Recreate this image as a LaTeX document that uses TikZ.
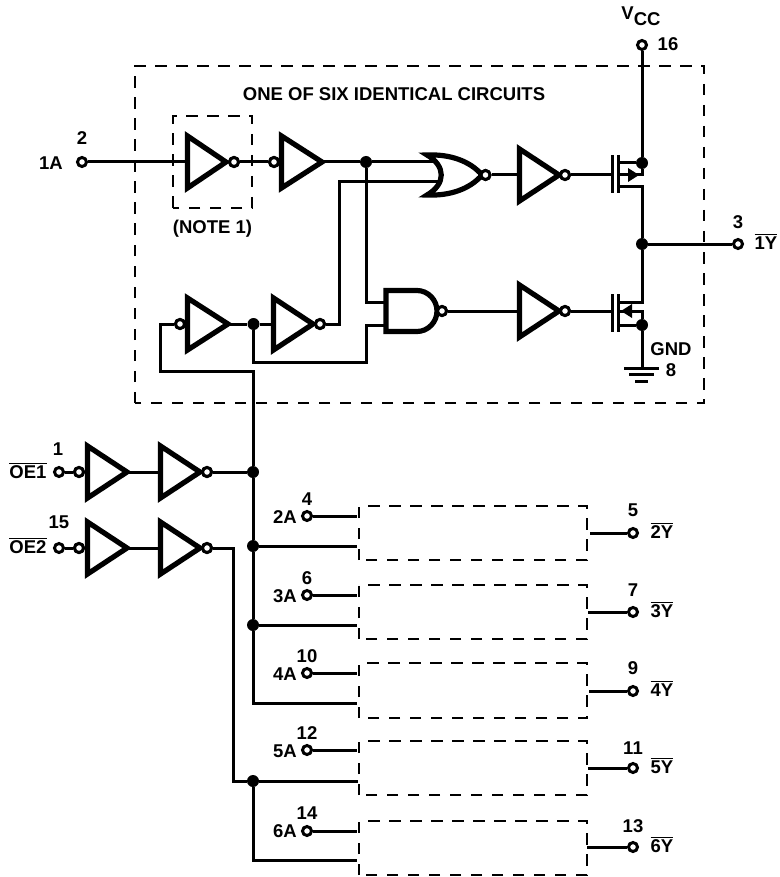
\documentclass[tikz,border=0pt]{standalone}
\usepackage{fontspec}
\setmainfont{Liberation Sans}
\newcommand{\ovl}[1]{\vbox{\hrule height 1.2pt \kern 1.6pt \hbox{#1}}}
\tikzset{
  wire/.style={line width=3pt,line cap=butt,line join=miter},
  gatebody/.style={line width=5.2pt,line join=miter,fill=white},
  dashbox/.style={line width=1.8pt,dash pattern=on 11.5pt off 9.5pt},
  pin/.style={circle,draw,fill=white,line width=3pt,inner sep=0pt,minimum size=9pt},
  dot/.style={circle,fill=black,inner sep=0pt,minimum size=12pt},
  lbl/.style={font=\fontsize{18.5}{20}\selectfont\bfseries,inner sep=0pt,text=black},
  lblov/.style={lbl,anchor=center}
}
% #1 name, #2 left x, #3 centre y, #4 apex x, #5 half height
\newcommand{\inverter}[5]{%
  \coordinate (#1-in) at (#2,#3);
  \coordinate (#1-out) at (#4,#3);
  \draw[gatebody] (#2,#3-#5) -- (#4,#3) -- (#2,#3+#5) -- cycle;
}
\begin{document}
\begin{tikzpicture}[x=1pt,y=-1pt]
\useasboundingbox (0,0) rectangle (779,877);

% dashed enclosures
\draw[dashbox] (135,403) -- (135,66) -- (704,66) -- (704,403) -- cycle;
\draw[dashbox] (173,208) -- (173,116) -- (252,116) -- (252,208) -- cycle;
\foreach \t/\b in {506/560,585/639,663/718,741/795,821/875}
  \draw[dashbox] (359,\b) -- (359,\t) -- (587,\t) -- (587,\b) -- cycle;

% pins
\node[pin] (p1A) at (82,162) {};
\node[pin] (pVcc) at (642,45) {};
\node[pin] (p1Y) at (738,244) {};
\node[pin] (pOE1) at (59,472) {};
\node[pin] (pOE2) at (59,548) {};
\node[pin] (p2A) at (307,516) {};
\node[pin] (p3A) at (307,595) {};
\node[pin] (p4A) at (307,673) {};
\node[pin] (p5A) at (307,750) {};
\node[pin] (p6A) at (307,831) {};
\node[pin] (p2Y) at (633,533) {};
\node[pin] (p3Y) at (633,612) {};
\node[pin] (p4Y) at (633,691) {};
\node[pin] (p5Y) at (633,768) {};
\node[pin] (p6Y) at (633,847) {};

% free wire ends at the dashed boxes
\coordinate (i2a) at (357,516); \coordinate (i2b) at (357,546); \coordinate (o2) at (590,533);
\coordinate (i3a) at (357,595); \coordinate (i3b) at (357,625); \coordinate (o3) at (588,612);
\coordinate (i4a) at (357,673); \coordinate (i4b) at (357,703); \coordinate (o4) at (589,691);
\coordinate (i5a) at (357,750); \coordinate (i5b) at (358,781); \coordinate (o5) at (588,768);
\coordinate (i6a) at (357,831); \coordinate (i6b) at (357,860); \coordinate (o6) at (587,847);

% junction dots
\node[dot] (jA) at (366,162) {};
\node[dot] (jB) at (253.5,324) {};
\node[dot] (jVcc) at (642,163) {};
\node[dot] (jOut) at (642,244) {};
\node[dot] (jGnd) at (642,325) {};
\node[dot] (jOE1) at (253,472) {};
\node[dot] (j2) at (253,546) {};
\node[dot] (j3) at (253,625) {};
\node[dot] (j5) at (253,781) {};

% connection points
\coordinate (orA) at (436,162);
\coordinate (orB) at (440,182);
\coordinate (naA) at (387,302);
\coordinate (naB) at (387,325);
\coordinate (g1) at (612,175);
\coordinate (g2) at (612,311);
\coordinate (gndTop) at (642,368);
\coordinate (u1-in) at (188,162);
\coordinate (u2-out) at (322,162);
\coordinate (u3-out) at (228,324);
\coordinate (u4-in) at (274,324);
\coordinate (u5-in) at (520,175);
\coordinate (u6-in) at (520,311);
\coordinate (u7-out) at (127,472);
\coordinate (u8-in) at (161,472);
\coordinate (u9-out) at (127,548);
\coordinate (u10-in) at (161,548);

% bubbles placed first so that connectors can use them
\node[pin] (b1) at (234,162) {};
\node[pin] (b2) at (274,162) {};
\node[pin] (b3) at (180,324) {};
\node[pin] (b4) at (320,324) {};
\node[pin] (b5) at (565,175) {};
\node[pin] (b6) at (565,311) {};
\node[pin] (b7) at (79,472) {};
\node[pin] (b8) at (207,472) {};
\node[pin] (b9) at (79,548) {};
\node[pin] (b10) at (207,548) {};
\node[pin] (bOr) at (485.5,175) {};
\node[pin] (bNand) at (442,311) {};

% connectors
\draw[wire] (p1A) -- (u1-in);
\draw[wire] (b1) -- (b2);
\draw[wire] (u2-out) -- (jA) -- (orA);
\draw[wire] (jA) |- (naA);
\draw[wire] (b4) -| (339,182) -- (orB);
\draw[wire] (b3) -| (160,371) -- (253,371) -- (jOE1);
\draw[wire] (u3-out) -- (jB) -- (u4-in);
\draw[wire] (jB) |- (366,362) |- (naB);
\draw[wire] (jOE1) -- (j2) -- (j3) |- (i4b);
\draw[wire] (bOr) -- (u5-in);
\draw[wire] (b5) -- (g1);
\draw[wire] (bNand) -- (u6-in);
\draw[wire] (b6) -- (g2);
\draw[wire] (pVcc) -- (jVcc);
\draw[wire] (jOut) -- (p1Y);
\draw[wire] (jGnd) -- (gndTop);
\draw[wire] (pOE1) -- (b7);
\draw[wire] (pOE2) -- (b9);
\draw[wire] (u7-out) -- (u8-in);
\draw[wire] (u9-out) -- (u10-in);
\draw[wire] (b8) -- (jOE1);
\draw[wire] (b10) -| (233,781) -- (j5) -- (i5b);
\draw[wire] (j5) |- (i6b);
\draw[wire] (j2) -- (i2b);
\draw[wire] (j3) -- (i3b);
\foreach \a/\b in {p2A/i2a,p3A/i3a,p4A/i4a,p5A/i5a,p6A/i6a,o2/p2Y,o3/p3Y,o4/p4Y,o5/p5Y,o6/p6Y}
  \draw[wire] (\a) -- (\b);

% gate outlines
\inverter{u1}{187.5}{162}{226}{26}
\inverter{u2}{281.5}{162}{322}{26}
\inverter{u3}{187.5}{324}{228}{26}
\inverter{u4}{273.5}{324}{313}{26}
\inverter{u5}{519.5}{175}{559}{26}
\inverter{u6}{519.5}{311}{559}{26}
\inverter{u7}{87.5}{472}{127}{26}
\inverter{u8}{160.5}{472}{200}{26}
\inverter{u9}{87.5}{548}{127}{26}
\inverter{u10}{160.5}{548}{200}{26}
% NOR body
\draw[gatebody] (427,155) .. controls (450,154) and (470,161) .. (482,175)
   .. controls (470,189) and (450,196) .. (427,195)
   .. controls (446,184) and (446,166) .. (427,155) -- cycle;
% NAND body
\draw[gatebody] (417,290.5) -- (386,290.5) -- (386,331.5) -- (417,331.5)
   .. controls (428,331.5) and (437,322) .. (437,311)
   .. controls (437,300) and (428,290.5) .. (417,290.5) -- cycle;
% bubbles drawn over the gates
\foreach \b/\x/\y in {b1/234/162,b2/274/162,b3/180/324,b4/320/324,b5/565/175,b6/565/311,b7/79/472,b8/207/472,b9/79/548,b10/207/548,bOr/485.5/175,bNand/442/311}
  \draw[line width=3pt,fill=white] (\x,\y) circle[radius=4.5pt];

% P-channel transistor
\draw[line width=3.4pt] (612.5,155) -- (612.5,193);
\draw[line width=3.4pt] (618.5,155) -- (618.5,193);
\draw[wire] (618,163) -- (jVcc);
\draw[wire] (618,175) -- (642,175) -- (jVcc);
\draw[wire] (618,187) -- (642,187) -- (jOut);
\fill (639,175) -- (628,168) -- (628,182) -- cycle;
% N-channel transistor
\draw[line width=3.4pt] (612.5,294) -- (612.5,332);
\draw[line width=3.4pt] (618.5,294) -- (618.5,332);
\draw[wire] (jOut) -- (642,302) -- (618,302);
\draw[wire] (618,325) -- (jGnd);
\draw[wire] (618,311) -- (642,311) -- (jGnd);
\fill (621,311) -- (632,304) -- (632,318) -- cycle;
% ground
\draw[line width=3pt] (624,368) -- (659,368);
\draw[line width=3pt] (629,374.5) -- (654,374.5);
\draw[line width=3pt] (635,381) -- (648,381);

% labels
\node[lbl] (tTitle) at (394,94) {ONE OF SIX IDENTICAL CIRCUITS};
\node[lbl] (tNote) at (212.5,229) {(NOTE 1)};
\node[lbl] (t1A) at (51,163) {1A};
\node[lbl] (t2) at (82,138) {2};
\node[lbl] (tVcc) at (641,16) {V\raisebox{-5.5pt}{CC}};
\node[lbl] (t16) at (668,44) {16};
\node[lbl] (t3) at (738,222) {3};
\node[lblov] (t1Y) at (766,242) {\ovl{1Y}};
\node[lbl] (tGnd) at (671,349) {GND};
\node[lbl] (t8) at (671,370) {8};
\node[lbl] (t1) at (58,449) {1};
\node[lbl] (t15) at (59,522) {15};
\node[lblov] (tOE1) at (28,471) {\ovl{OE1}};
\node[lblov] (tOE2) at (28,546) {\ovl{OE2}};
\foreach \n/\txt/\x/\y in {t2A/2A/285/517,t3A/3A/285/596,t4A/4A/285/674,t5A/5A/285/751,t6A/6A/285/831,
   n4/4/307/499,n6/6/307/578,n10/10/307/656,n12/12/307/733,n14/14/307/813,
   n5/5/633/510,n7/7/633/590,n9/9/633/668,n11/11/633/748,n13/13/633/826}
  \node[lbl] (\n) at (\x,\y) {\txt};
\foreach \n/\txt/\y in {t2Y/2Y/531,t3Y/3Y/610,t4Y/4Y/689,t5Y/5Y/766,t6Y/6Y/845}
  \node[lblov] (\n) at (662,\y) {\ovl{\txt}};
\end{tikzpicture}
\end{document}
